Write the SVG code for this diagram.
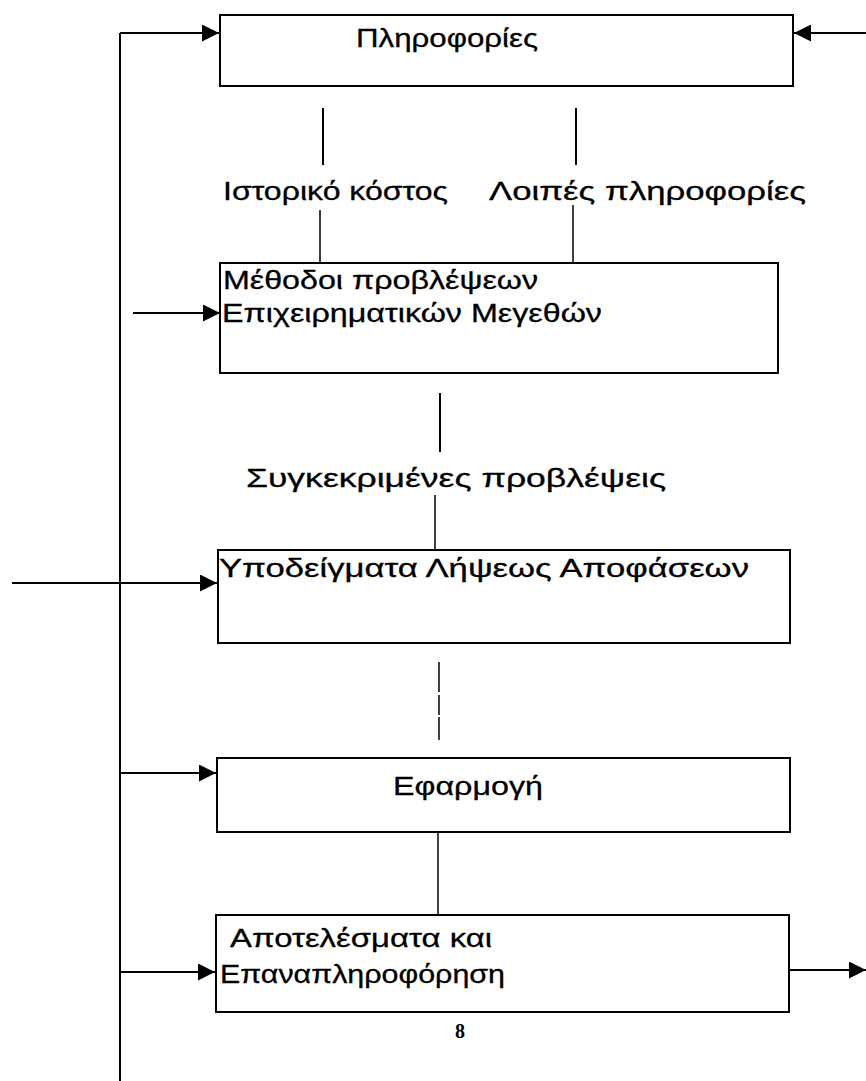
<svg xmlns="http://www.w3.org/2000/svg" width="866" height="1081" viewBox="0 0 866 1081">
  <defs>
    <marker id="arrow" viewBox="0 0 10 10" refX="10" refY="5" markerWidth="24" markerHeight="17" markerUnits="userSpaceOnUse" orient="auto">
      <path d="M0,0 L10,5 L0,10 z" fill="#000"/>
    </marker>
  </defs>
  <style>
    .box { fill: #fff; stroke: #000; stroke-width: 2; }
    .line { fill: none; stroke: #000; stroke-width: 2; }
    .thin { fill: none; stroke: #000; stroke-width: 1.5; }
    .arr { fill: none; stroke: #000; stroke-width: 2; marker-end: url(#arrow); }
    .lbl { font-family: "Liberation Sans", Arial, sans-serif; font-size: 26px; fill: #000; stroke: #000; stroke-width: 0.3; }
    .num { font-family: "Liberation Serif", "Times New Roman", serif; font-size: 20px; font-weight: bold; fill: #000; }
  </style>

  <rect width="866" height="1081" fill="#fff"/>

  <!-- connectors -->
  <g id="connectors">
    <!-- feedback bus on the left -->
    <path class="line" d="M120,33 V1081"/>
    <path class="arr" d="M120,33 H219"/>
    <path class="arr" d="M866,33 H794"/>
    <path class="arr" d="M133,313 H220"/>
    <path class="arr" d="M12,583 H217"/>
    <path class="arr" d="M120,773 H216"/>
    <path class="arr" d="M120,972 H215"/>
    <path class="arr" d="M790,970 H866"/>
    <!-- information feeds into forecasting -->
    <path class="line" d="M323,108 V165"/>
    <path class="line" d="M576,108 V165"/>
    <path class="thin" d="M320,210 V263"/>
    <path class="thin" d="M573,205 V263"/>
    <!-- forecasts into decision models -->
    <path class="line" d="M440,393 V452"/>
    <path class="thin" d="M435,495 V550"/>
    <!-- decision models to application -->
    <path class="thin" d="M439,662 V740" stroke-dasharray="30 3 20 2"/>
    <!-- application to results -->
    <path class="thin" d="M438,832 V915"/>
  </g>

  <g id="node-info">
    <rect class="box" x="220" y="15" width="573" height="71"/>
    <text class="lbl" x="356" y="47" textLength="182" lengthAdjust="spacingAndGlyphs">Πληροφορίες</text>
  </g>

  <g id="label-historic">
    <text class="lbl" x="223" y="200" textLength="225" lengthAdjust="spacingAndGlyphs">Ιστορικό κόστος</text>
  </g>
  <g id="label-other">
    <text class="lbl" x="489" y="200" textLength="317" lengthAdjust="spacingAndGlyphs">Λοιπές πληροφορίες</text>
  </g>

  <g id="node-methods">
    <rect class="box" x="220" y="263" width="558" height="110"/>
    <text class="lbl" x="223" y="289" textLength="315" lengthAdjust="spacingAndGlyphs">Μέθοδοι προβλέψεων</text>
    <text class="lbl" x="222" y="322" textLength="380" lengthAdjust="spacingAndGlyphs">Επιχειρηματικών Μεγεθών</text>
  </g>

  <g id="label-forecasts">
    <text class="lbl" x="246" y="487" textLength="420" lengthAdjust="spacingAndGlyphs">Συγκεκριμένες προβλέψεις</text>
  </g>

  <g id="node-models">
    <rect class="box" x="218" y="550" width="572" height="93"/>
    <text class="lbl" x="219" y="577" textLength="530" lengthAdjust="spacingAndGlyphs">Υποδείγματα Λήψεως Αποφάσεων</text>
  </g>

  <g id="node-application">
    <rect class="box" x="217" y="758" width="573" height="74"/>
    <text class="lbl" x="393" y="795" textLength="150" lengthAdjust="spacingAndGlyphs">Εφαρμογή</text>
  </g>

  <g id="node-results">
    <rect class="box" x="216" y="915" width="573" height="97"/>
    <text class="lbl" x="230" y="947" textLength="262" lengthAdjust="spacingAndGlyphs">Αποτελέσματα και</text>
    <text class="lbl" x="220" y="983" textLength="285" lengthAdjust="spacingAndGlyphs">Επαναπληροφόρηση</text>
  </g>

  <text class="num" x="455" y="1038">8</text>
</svg>
